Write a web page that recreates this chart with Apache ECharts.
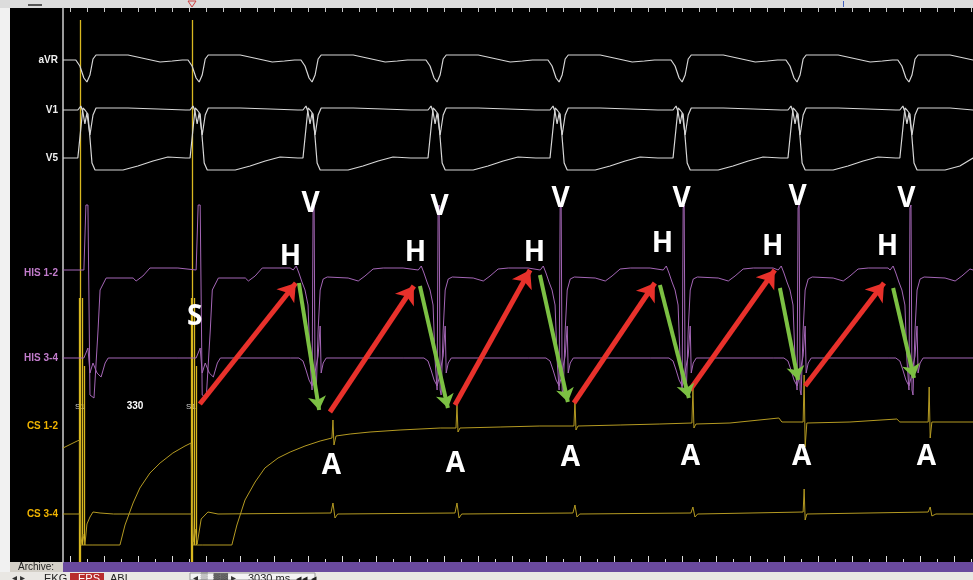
<!DOCTYPE html>
<html><head><meta charset="utf-8">
<script src="https://cdn.jsdelivr.net/npm/echarts@6/dist/echarts.min.js"></script>
<style>html,body{margin:0;padding:0;background:#000;}#c{width:973px;height:580px;}</style>
</head><body><div id="c"></div>
<script>
// ---------- DATA (time in ms, amplitude in display units relative to each channel baseline) ----------
const timeMax = 2700;
const channelNames = ['aVR', 'V1', 'V5', 'HIS 1-2', 'HIS 3-4', 'CS 1-2', 'CS 3-4'];
const stimTimes = [50, 383];
const pacedVTimes = [74, 407];
const conductedVTimes = [742, 1113, 1475, 1840, 2181, 2513];
const aTimes = [801, 1169, 1519, 1869, 2202, 2573];

// beat shapes: [ms from V, amplitude]
const aVRBeat = [[-36,0],[-24,-6],[-12,-18],[-3,-22],[6,-15],[15,1],[24,5],[119,5],[160,2],[214,-2],[250,-1],[280,0]];
const v1Beat = [[-30,0],[-21,4],[-15,-2],[-9,-14],[-3,-3],[6,-25],[15,-5],[24,2],[119,2],[208,1],[290,0]];
const v5Beat = [[-36,0],[-30,0],[-21,30],[-15,50],[-9,48],[0,44],[6,20],[12,-5],[21,-12],[104,-12],[148,-8],[193,-3],[237,1],[290,0]];
const his12Conducted = [[-59,0],[-50,4],[-42,-3],[-33,-12],[-24,-20],[-15,-35],[-9,-90],[-3,-120],[0,62],[3,65],[6,-120],[9,-125],[15,-60],[21,-20],[30,-9],[42,-7],[104,-8],[134,-11],[154,-6],[178,1],[208,2],[267,2]];
const his12Paced = [[-12,0],[-6,65],[0,65],[6,-125],[18,-128],[30,-60],[36,-20],[54,-8],[134,-8],[143,-11],[163,-6],[184,2],[267,2]];
const his34Conducted = [[-42,0],[-30,-3],[-21,-12],[-12,-22],[-3,-28],[3,-20],[9,-8],[15,2],[21,32],[24,-15],[30,-5],[39,0],[267,0]];
const his34Paced = [[-12,0],[0,10],[6,-15],[15,-5],[27,-15],[39,-19],[51,-5],[60,0],[267,0]];

const cs12Trace = [[0,-22],[42,-15],[50,-14],[53,-119],[89,-119],[169,-119],[184,-99],[208,-77],[228,-62],[258,-47],[288,-37],[326,-27],[362,-20],[380,-17],[386,-119],[415,-119],[501,-119],[516,-99],[540,-74],[570,-56],[599,-42],[638,-32],[674,-26],[718,-20],[763,-15],[798,-12],[801,6],[804,-19],[810,-10],[852,-8],[911,-6],[1000,-4],[1119,-2],[1166,-2],[1169,21],[1172,-6],[1178,-2],[1297,-1],[1415,0],[1516,0],[1519,26],[1522,-4],[1528,0],[1653,1],[1771,2],[1866,3],[1869,38],[1872,-2],[1878,2],[1979,3],[2124,8],[2133,4],[2196,4],[2199,51],[2202,-21],[2207,3],[2335,4],[2474,7],[2483,4],[2567,4],[2570,39],[2573,-12],[2578,4],[2700,4]];
const cs34Trace = [[0,0],[50,0],[53,-30],[59,-20],[65,-31],[71,-10],[80,-3],[89,2],[110,1],[150,0],[383,0],[386,-28],[392,-15],[398,-30],[410,-5],[430,2],[460,0],[795,1],[801,11],[807,-4],[815,0],[1163,1],[1169,11],[1175,-4],[1183,0],[1513,1],[1519,9],[1525,-3],[1533,0],[1863,1],[1869,7],[1875,-3],[1883,0],[2196,2],[2199,25],[2202,-6],[2207,0],[2567,2],[2573,7],[2578,-2],[2590,0],[2700,0]];
// stimulus artefacts (CS 1-2 amplitude units)
const stimArtefacts = [[[50,406],[50,-136]],[[47,128],[47,-136]],[[56,128],[56,-119]],[[62,60],[62,-119]],
                       [[383,406],[383,-136]],[[380,128],[380,-136]],[[389,128],[389,-119]],[[395,60],[395,-119]]];

// annotations (HIS 1-2 amplitude units)
const redArrows = [[[406,-134],[691,-13]],[[792,-142],[1041,-16]],[[1163,-135],[1386,0]],[[1516,-133],[1756,-13]],[[1860,-120],[2112,0]],[[2202,-116],[2436,-13]]];
const greenArrows = [[[700,-13],[760,-140]],[[1059,-16],[1142,-138]],[[1415,-5],[1498,-132]],[[1771,-15],[1857,-128]],[[2127,-18],[2181,-110]],[[2463,-18],[2525,-108]]];
const vLabels = [[736,65],[1119,62],[1478,70],[1837,70],[2181,72],[2504,70]];
const hLabels = [[676,12],[1047,16],[1400,16],[1780,25],[2107,22],[2448,22]];
const aLabels = [[798,-197],[1166,-195],[1507,-189],[1863,-188],[2193,-188],[2563,-188]];
const sLabels = [[392,-48]];

// ---------- LAYOUT / STYLE ----------
const plotTop = 8, plotBottom = 562, plotLeft = 63;
const baselines = [60, 110, 158, 270, 358, 426, 514];
const labelColors = ['#f0f0f0','#f0f0f0','#f0f0f0','#c27ccc','#c27ccc','#f0b400','#f0b400'];
const ECG = '#d6d6d6', HIS = '#a466b6', CS = '#b49a22', STIM = '#d9b820';

function buildTrace(groups) {
  const pts = [[0, 0]];
  groups.forEach(g => g.times.forEach(t => g.shape.forEach(p => pts.push([t + p[0], p[1]]))));
  pts.push([timeMax, 0]);
  pts.sort((a, b) => a[0] - b[0]);
  return pts;
}
const allV = pacedVTimes.concat(conductedVTimes);
const traces = [
  buildTrace([{times: allV, shape: aVRBeat}]),
  buildTrace([{times: allV, shape: v1Beat}]),
  buildTrace([{times: allV, shape: v5Beat}]),
  buildTrace([{times: pacedVTimes, shape: his12Paced}, {times: conductedVTimes, shape: his12Conducted}]),
  buildTrace([{times: pacedVTimes, shape: his34Paced}, {times: conductedVTimes, shape: his34Conducted}]),
  cs12Trace,
  cs34Trace
];
const colors = [ECG, ECG, ECG, HIS, HIS, CS, CS];

const yAxes = baselines.map(b => ({type: 'value', gridIndex: 0, min: -(plotBottom - b), max: b - plotTop, show: false}));
yAxes.push({type: 'value', gridIndex: 0, min: 0, max: 1, position: 'left',
  axisLine: {show: true, lineStyle: {color: '#cfcfcf', width: 1.5}}, axisTick: {show: false}, axisLabel: {show: false}, splitLine: {show: false}});
yAxes.push({type: 'value', gridIndex: 1, show: false, min: 0, max: 1});

const series = traces.map((d, i) => ({
  type: 'line', name: channelNames[i], xAxisIndex: 0, yAxisIndex: i, data: d,
  showSymbol: false, symbol: 'none', silent: true, animation: false,
  lineStyle: {color: colors[i], width: i < 3 ? 1.2 : 1}
}));
series.push({
  type: 'lines', coordinateSystem: 'cartesian2d', xAxisIndex: 0, yAxisIndex: 5, silent: true,
  data: stimArtefacts.map(c => ({coords: c})), lineStyle: {color: STIM, width: 1.3, opacity: 1}, symbol: 'none'
});
function arrowSeries(list, color, w) {
  return {type: 'lines', coordinateSystem: 'cartesian2d', xAxisIndex: 0, yAxisIndex: 3, silent: true, z: 5,
    data: list.map(c => ({coords: c})), symbol: ['none', 'arrow'], symbolSize: w * 3.4,
    lineStyle: {color: color, width: w, opacity: 1, curveness: 0}};
}
series.push(arrowSeries(redArrows, '#e8312b', 5));
series.push(arrowSeries(greenArrows, '#7cc043', 4));
function textSeries(list, txt) {
  return {type: 'scatter', xAxisIndex: 0, yAxisIndex: 3, symbol: 'circle', symbolSize: 1, silent: true, z: 6,
    itemStyle: {color: '#000000'},
    data: list, label: {show: true, position: [0, 0], align: 'center', verticalAlign: 'middle', formatter: txt,
      color: '#ffffff', opacity: 1,
      fontFamily: 'Open Sans', fontWeight: 'bold', fontSize: 28,
      textBorderWidth: 0, textShadowColor: '#3f6fd8', textShadowBlur: 0, textShadowOffsetX: -1}};
}
series.push(textSeries(vLabels, 'V'));
series.push(textSeries(hLabels, 'H'));
series.push(textSeries(aLabels, 'A'));
series.push(textSeries(sLabels, 'S'));

const graphics = [
  {type: 'rect', shape: {x: 0, y: 0, width: 10, height: 580}, style: {fill: '#f1f1f1'}},
  {type: 'rect', shape: {x: 0, y: 0, width: 973, height: 8}, style: {fill: '#dcdcdc'}},
  {type: 'rect', shape: {x: 28, y: 4, width: 14, height: 2}, style: {fill: '#555'}},
  {type: 'polygon', shape: {points: [[188, 1], [196, 1], [192, 7]]}, style: {fill: 'none', stroke: '#d04040', lineWidth: 1}},
  {type: 'rect', shape: {x: 843, y: 1, width: 1, height: 6}, style: {fill: '#4060c0'}},
  {type: 'rect', shape: {x: 10, y: 562, width: 53, height: 10}, style: {fill: '#d4d0c8'}},
  {type: 'text', style: {x: 18, y: 567, text: 'Archive:', fill: '#222', font: '10px "Liberation Sans"', textVerticalAlign: 'middle'}},
  {type: 'rect', shape: {x: 63, y: 562, width: 910, height: 10}, style: {fill: '#6a4a9e'}},
  {type: 'rect', shape: {x: 0, y: 572, width: 973, height: 8}, style: {fill: '#e9e7e3'}},
  {type: 'rect', shape: {x: 70, y: 573, width: 34, height: 7}, style: {fill: '#b82c2c'}},
  {type: 'text', style: {x: 12, y: 573, text: '◂ ▸', fill: '#333', font: '10px "Liberation Sans"'}},
  {type: 'text', style: {x: 44, y: 573, text: 'EKG', fill: '#222', font: '11px "Liberation Sans"'}},
  {type: 'text', style: {x: 78, y: 573, text: 'EPS', fill: '#fff', font: '11px "Liberation Sans"'}},
  {type: 'text', style: {x: 110, y: 573, text: 'ABL', fill: '#222', font: '11px "Liberation Sans"'}},
  {type: 'rect', shape: {x: 190, y: 573, width: 125, height: 7}, style: {fill: '#f4f4f4', stroke: '#999', lineWidth: 1}},
  {type: 'text', style: {x: 193, y: 573, text: '◂ ▒  ▓▓ ▸', fill: '#333', font: '10px "Liberation Sans"'}},
  {type: 'text', style: {x: 248, y: 573, text: '3030 ms  ◂◂ ◂', fill: '#222', font: '11px "Liberation Sans"'}},
  {type: 'text', style: {x: 80, y: 407, text: 'S1', fill: '#d0d0d0', font: '8px "Liberation Sans"', textAlign: 'center', textVerticalAlign: 'middle'}},
  {type: 'text', style: {x: 191, y: 407, text: 'S1', fill: '#d0d0d0', font: '8px "Liberation Sans"', textAlign: 'center', textVerticalAlign: 'middle'}},
  {type: 'text', style: {x: 135, y: 406, text: '330', fill: '#ffffff', font: 'bold 10px "Liberation Sans"', textAlign: 'center', textVerticalAlign: 'middle'}}
];
channelNames.forEach((n, i) => graphics.push({type: 'text', z: 10,
  style: {x: 58, y: baselines[i] + (i === 3 ? 3 : 0), text: n, fill: labelColors[i], font: 'bold 10px "Liberation Sans"', textAlign: 'right', textVerticalAlign: 'middle'}}));

const chart = echarts.init(document.getElementById('c'), null, {renderer: 'canvas'});
chart.setOption({
  backgroundColor: '#000',
  animation: false,
  grid: [
    {left: plotLeft, right: 0, top: plotTop, bottom: 580 - plotBottom},
    {left: 70, right: 0, top: plotTop, bottom: 580 - plotBottom}
  ],
  xAxis: [
    {type: 'value', gridIndex: 0, min: 0, max: timeMax, show: false},
    {type: 'value', gridIndex: 1, position: 'top', min: 0, max: 2656, interval: 50,
      axisLine: {show: false, onZero: false}, axisLabel: {show: false}, splitLine: {show: false},
      axisTick: {show: true, inside: true, length: 4, lineStyle: {color: '#c8c8c8'}}},
    {type: 'value', gridIndex: 1, position: 'bottom', min: 0, max: 2656, interval: 100,
      axisLine: {show: false, onZero: false}, axisLabel: {show: false}, splitLine: {show: false},
      axisTick: {show: true, inside: true, length: 6, lineStyle: {color: '#dddddd'}},
      minorTick: {show: true, splitNumber: 2, length: 3, lineStyle: {color: '#dddddd'}}}
  ],
  yAxis: yAxes,
  series: series,
  graphic: graphics
});
</script></body></html>
